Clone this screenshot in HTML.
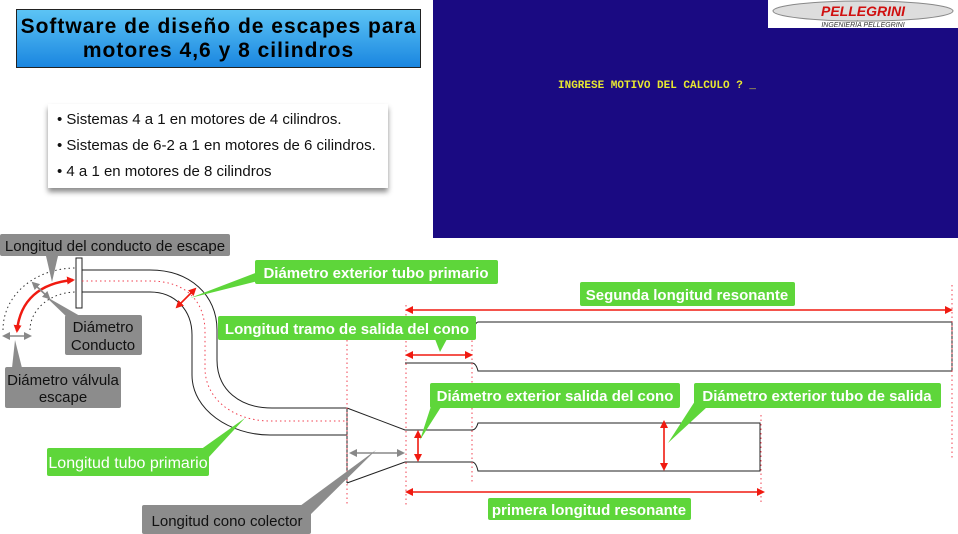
<!DOCTYPE html>
<html><head><meta charset="utf-8"><style>
html,body{margin:0;padding:0;background:#fff;}
body{width:958px;height:534px;position:relative;overflow:hidden;font-family:"Liberation Sans",sans-serif;}
.title{position:absolute;left:16px;top:9px;width:405px;height:59px;border:1px solid #222;background:linear-gradient(#5cc4f5,#1a86e0);text-align:center;font-weight:bold;font-size:21px;letter-spacing:1px;line-height:24px;padding-top:5px;box-sizing:border-box;color:#000;white-space:nowrap;}
.list{position:absolute;left:48px;top:104px;width:340px;height:84px;background:#fff;box-shadow:0 4px 5px rgba(0,0,0,0.45);font-size:15px;color:#111;}
.list div{position:absolute;left:9px;white-space:nowrap;}
.panel{position:absolute;left:433px;top:0;width:525px;height:238px;background:#1a0a82;}
.logo{position:absolute;left:768px;top:0;width:190px;height:28px;background:#fff;}
.prompt{position:absolute;left:558px;top:80px;font-family:"Liberation Mono",monospace;font-weight:bold;font-size:11px;color:#e8e830;}
svg{position:absolute;left:0;top:0;}
</style></head><body>
<div class="title">Software de diseño de escapes para<br>motores 4,6 y 8 cilindros</div>
<div class="list">
<div style="top:7px">• Sistemas 4 a 1 en motores de 4 cilindros.</div>
<div style="top:33px">• Sistemas de 6-2 a 1 en motores de 6 cilindros.</div>
<div style="top:59px">• 4 a 1 en motores de 8 cilindros</div>
</div>
<div class="panel"></div>
<div class="logo">
<svg width="190" height="28" style="left:0;top:0">
<ellipse cx="95" cy="11" rx="90" ry="10" fill="#ddd" stroke="#888"/>
<text x="95" y="16" text-anchor="middle" font-family="Liberation Sans" font-weight="bold" font-style="italic" font-size="14" fill="#d01010">PELLEGRINI</text>
<text x="95" y="27" text-anchor="middle" font-family="Liberation Sans" font-style="italic" font-size="7" fill="#333">INGENIERÍA PELLEGRINI</text>
</svg></div>
<div class="prompt">INGRESE MOTIVO DEL CALCULO ? _</div>

<svg width="958" height="534" viewBox="0 0 958 534">
<defs>
<marker id="r" markerWidth="8" markerHeight="8" refX="6" refY="4" orient="auto-start-reverse" markerUnits="userSpaceOnUse"><path d="M0,0 L8,4 L0,8 z" fill="#f01a10"/></marker>
<marker id="g" markerWidth="8" markerHeight="8" refX="6" refY="4" orient="auto-start-reverse" markerUnits="userSpaceOnUse"><path d="M0,0 L8,4 L0,8 z" fill="#888"/></marker>
</defs>
<g fill="none" stroke="#222" stroke-width="1">
<rect x="76" y="258" width="6" height="50" fill="#fff"/>
<path d="M82,270 H150 C190,270 217,295 217,330 V360 C217,390 240,408 272,408 H347"/>
<path d="M82,292 H150 C175,292 192,310 192,335 V375 C192,410 230,435 270,435 H347"/>
<path d="M347,408 V483 M347,408 L405,430 H472 Q476,430 478,423 H760 V471 H478 Q476,462 472,462 H405 L347,483"/>
<path d="M405,363 H472 Q476,363 478,371 H952 V322 H478 Q476,322 474,328"/>
</g>
<g fill="none" stroke="#f04050" stroke-width="1" stroke-dasharray="1.5,3">
<path d="M82,281 H150 C185,281 205,300 205,332 V368 C205,400 235,421 270,421 H347"/>
<path d="M347,340 V505 M406,305 V505 M472,318 V484 M761,415 V505 M952,285 V460"/>
</g>
<g fill="none" stroke="#333" stroke-width="1" stroke-dasharray="1.5,3">
<path d="M3,330 C3,295 35,268 76,268"/>
<path d="M30,330 C30,310 50,292 76,292"/>
</g>
<g stroke="#f01a10" stroke-width="2.5" fill="none">
<path d="M17,331 C20,300 40,283 73,280" marker-start="url(#r)" marker-end="url(#r)"/>
</g>
<g stroke="#f01a10" stroke-width="1.6" fill="none">
<line x1="177" y1="307" x2="195" y2="289" marker-start="url(#r)" marker-end="url(#r)"/>
<line x1="407" y1="310" x2="951" y2="310" marker-start="url(#r)" marker-end="url(#r)"/>
<line x1="407" y1="355" x2="471" y2="355" marker-start="url(#r)" marker-end="url(#r)"/>
<line x1="418" y1="432" x2="418" y2="460" marker-start="url(#r)" marker-end="url(#r)"/>
<line x1="664" y1="422" x2="664" y2="469" marker-start="url(#r)" marker-end="url(#r)"/>
<line x1="407" y1="492" x2="763" y2="492" marker-start="url(#r)" marker-end="url(#r)"/>
</g>
<g stroke="#888" stroke-width="1.6" fill="none">
<line x1="33" y1="283" x2="49" y2="298" marker-start="url(#g)" marker-end="url(#g)"/>
<line x1="4" y1="336" x2="30" y2="336" marker-start="url(#g)" marker-end="url(#g)"/>
<line x1="351" y1="453" x2="403" y2="453" marker-start="url(#g)" marker-end="url(#g)"/>
</g>
<g fill="#8c8c8c">
<rect x="0" y="234" width="230" height="22" rx="2"/><path d="M46,256 L52,282 L58,256z"/>
<rect x="65" y="315" width="77" height="40" rx="2"/><path d="M70,320 L45,296 L80,316z"/>
<rect x="5" y="367" width="116" height="41" rx="2"/><path d="M12,368 L15,340 L22,368z"/>
<rect x="142" y="505" width="169" height="29" rx="2"/><path d="M300,506 L376,450 L310,515z"/>
</g>
<g font-size="15" fill="#111" text-anchor="middle">
<text x="115" y="251">Longitud del conducto de escape</text>
<text x="103" y="332">Diámetro</text><text x="103" y="350">Conducto</text>
<text x="63" y="385">Diámetro válvula</text><text x="63" y="402">escape</text>
<text x="227" y="526">Longitud cono colector</text>
</g>
<g fill="#5ed63a">
<rect x="255" y="260" width="243" height="24" rx="2"/><path d="M258,272 L190,298 L262,280z"/>
<rect x="218" y="316" width="258" height="24" rx="2"/><path d="M435,339 L440,352 L447,339z"/>
<rect x="430" y="383" width="250" height="25" rx="2"/><path d="M433,400 L420,440 L441,407z"/>
<rect x="694" y="383" width="247" height="25" rx="2"/><path d="M697,398 L668,443 L707,407z"/>
<rect x="47" y="448" width="162" height="28" rx="2"/><path d="M200,450 L245,418 L208,458z"/>
<rect x="580" y="282" width="215" height="24" rx="2"/>
<rect x="488" y="498" width="203" height="22" rx="2"/>
</g>
<g font-size="15" font-weight="bold" fill="#fff" text-anchor="middle">
<text x="376" y="278">Diámetro exterior tubo primario</text>
<text x="347" y="334">Longitud tramo de salida del cono</text>
<text x="555" y="401">Diámetro exterior salida del cono</text>
<text x="817" y="401">Diámetro exterior tubo de salida</text>
<text x="128" y="468" font-weight="normal" font-size="16">Longitud tubo primario</text>
<text x="687" y="300">Segunda longitud resonante</text>
<text x="589" y="515">primera longitud resonante</text>
</g>
</svg>
</body></html>
